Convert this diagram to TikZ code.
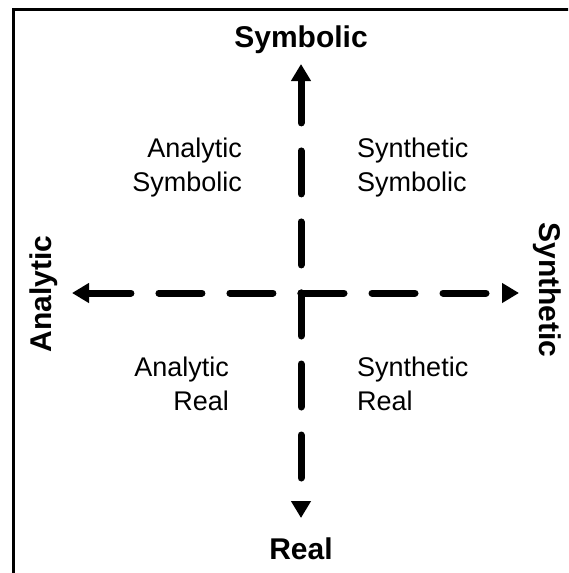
\documentclass[tikz,border=0pt]{standalone}
\usepackage{fontspec}
\setmainfont{Liberation Sans}
\usetikzlibrary{arrows.meta}
\tikzset{
  axislabel/.style={inner sep=0pt, font=\fontsize{30}{36}\selectfont\bfseries},
  quadlabel/.style={inner sep=0pt, font=\fontsize{27}{34}\selectfont},
  axis/.style={line width=7pt, line cap=round, dash pattern=on 43pt off 28pt,
    -{Triangle[length=17pt,width=19pt]}},
}
\begin{document}
\begin{tikzpicture}[x=1pt,y=-1pt]
\useasboundingbox (0,0) rectangle (568,573);
\begin{scope}
\clip (0,0) rectangle (568,573);
\draw[line width=3pt] (13,9.5) rectangle (600,600);
\end{scope}
\coordinate (c) at (301,293);
\coordinate (tu) at (301,64);
\coordinate (td) at (301,518);
\coordinate (tl) at (72,293);
\coordinate (tr) at (519,293);
\node[axislabel, anchor=base] (sym) at (301,47) {Symbolic};
\node[axislabel, anchor=base] (real) at (301,559) {Real};
\node[axislabel, rotate=90] (ana) at (44,294) {Analytic};
\node[axislabel, rotate=-90] (syn) at (547,290) {Synthetic};
\node[quadlabel, align=right, anchor=east] (as) at (242,168) {Analytic\\Symbolic};
\node[quadlabel, align=left, anchor=west] (ss) at (357,168) {Synthetic\\Symbolic};
\node[quadlabel, align=right, anchor=east] (ar) at (229,384) {Analytic\\Real};
\node[quadlabel, align=left, anchor=west] (sr) at (357,384) {Synthetic\\Real};
\draw[axis, {Triangle[length=17pt,width=19pt]}-] (tu) -- (c);
\draw[axis, {Triangle[length=17pt,width=19pt]}-] (tl) -- (c);
\draw[axis] (c) -- (tr);
\draw[axis] (c) -- (td);
\end{tikzpicture}
\end{document}
